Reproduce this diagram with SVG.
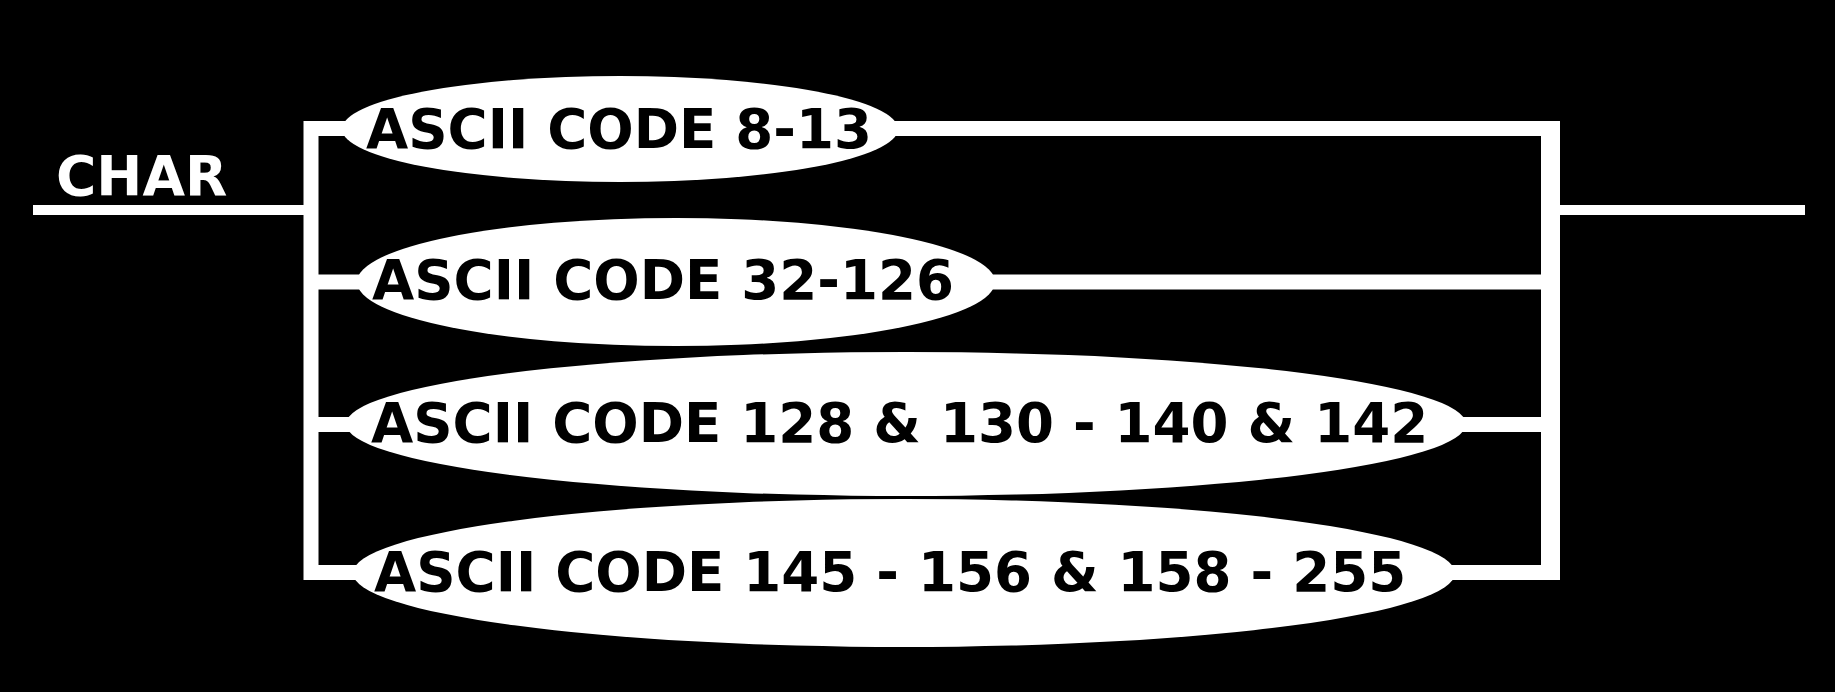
<svg xmlns="http://www.w3.org/2000/svg" width="1835" height="692" viewBox="0 0 1835 692">
<style>
.bg{fill:#000}
.wire{fill:none;stroke:#fff;stroke-linejoin:miter;stroke-linecap:butt}
.main{stroke-width:10}
.br{stroke-width:15}
.node{fill:#fff;stroke:none}
.lbl{font-family:"DejaVu Sans","Liberation Sans",sans-serif;font-weight:bold;font-size:54.6px;fill:#000}
.title{font-family:"DejaVu Sans","Liberation Sans",sans-serif;font-weight:bold;font-size:55px;fill:#fff}
</style>
<rect class="bg" x="0" y="0" width="1835" height="692"/>
<g id="connectors">
<path class="wire main" d="M33 210 H311"/>
<path class="wire main" d="M1552 210 H1805"/>
<path class="wire br" d="M360 128.5 H311 V572.5 H370"/>
<path class="wire br" d="M311 282 H370"/>
<path class="wire br" d="M311 424.5 H360"/>
<path class="wire br" d="M880 128.5 H1552 V572.5 H1440"/>
<path class="wire" style="stroke-width:19" d="M1550.5 121 V580"/>
<path class="wire br" d="M980 282 H1545"/>
<path class="wire br" d="M1450 424.5 H1545"/>
</g>
<g id="char-label">
<text class="title" x="56" y="195">CHAR</text>
</g>
<g id="node-8-13">
<ellipse class="node" cx="620" cy="129" rx="278" ry="53"/>
<text class="lbl" x="366" y="148">ASCII CODE 8-13</text>
</g>
<g id="node-32-126">
<ellipse class="node" cx="676" cy="282" rx="319" ry="64"/>
<text class="lbl" x="372" y="299">ASCII CODE 32-126</text>
</g>
<g id="node-128-142">
<ellipse class="node" cx="906" cy="424" rx="560" ry="72"/>
<text class="lbl" x="371" y="442">ASCII CODE 128 &amp; 130 - 140 &amp; 142</text>
</g>
<g id="node-145-255">
<ellipse class="node" cx="904" cy="573" rx="551" ry="74"/>
<text class="lbl" x="374" y="591">ASCII CODE 145 - 156 &amp; 158 - 255</text>
</g>
</svg>
